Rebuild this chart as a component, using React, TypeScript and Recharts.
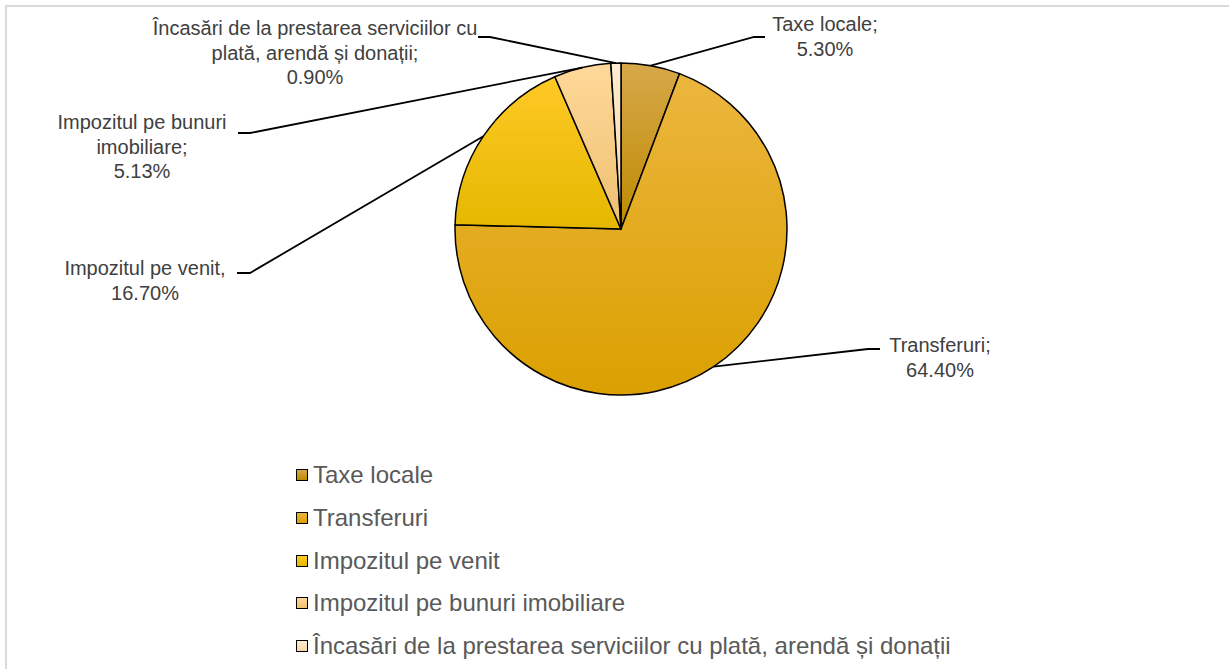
import { PieChart, Pie, Cell, Legend } from "recharts"

const categories = [
  "Taxe locale",
  "Transferuri",
  "Impozitul pe venit",
  "Impozitul pe bunuri imobiliare",
  "Încasări de la prestarea serviciilor cu plată, arendă și donații",
]
const shares = [5.3, 64.4, 16.7, 5.13, 0.9]
const labelNameLines = [
  ["Taxe locale;"],
  ["Transferuri;"],
  ["Impozitul pe venit,"],
  ["Impozitul pe bunuri", "imobiliare;"],
  ["Încasări de la prestarea serviciilor cu", "plată, arendă și donații;"],
]

const data = categories.map((name, i) => ({ name, value: shares[i] }))

// slice gradients, top -> bottom
const colors = [
  ["#D6A84A", "#BE8A00"],
  ["#ECB63E", "#DBA000"],
  ["#FFC926", "#E4B800"],
  ["#FFD99A", "#EDC070"],
  ["#FFECD0", "#F4D8AA"],
]

// leader line elbow / end and label text position, relative to the pie centre
const labelLayout = [
  { elbow: [133, -192], end: [144, -192], tx: 204, ty: -205 },
  { elbow: [247, 120], end: [259, 120], tx: 319, ty: 116 },
  { elbow: [-371, 44], end: [-384, 44], tx: -476, ty: 39 },
  { elbow: [-371, -96], end: [-383, -96], tx: -479, ty: -107 },
  { elbow: [-131, -192], end: [-143, -192], tx: -306, ty: -201 },
]

const RAD = Math.PI / 180
const LINE_H = 24.5

const renderLabel = (props: any) => {
  const { cx, cy, midAngle, outerRadius, index, value } = props
  const lay = labelLayout[index]
  const x0 = cx + outerRadius * Math.cos(-midAngle * RAD)
  const y0 = cy + outerRadius * Math.sin(-midAngle * RAD)
  const lines = [...labelNameLines[index], `${value.toFixed(2)}%`]
  return (
    <g key={`lbl-${index}`}>
      <path
        d={`M${x0},${y0}L${cx + lay.elbow[0]},${cy + lay.elbow[1]}L${cx + lay.end[0]},${cy + lay.end[1]}`}
        stroke="#000"
        strokeWidth={1.8}
        fill="none"
      />
      <text
        x={cx + lay.tx}
        y={cy + lay.ty}
        textAnchor="middle"
        dominantBaseline="central"
        fill="#404040"
        fontSize={20}
        fontFamily="'Liberation Sans', Arial, sans-serif"
      >
        {lines.map((l, k) => (
          <tspan key={k} x={cx + lay.tx} dy={k === 0 ? 0 : LINE_H}>
            {l}
          </tspan>
        ))}
      </text>
    </g>
  )
}

const renderLegend = () => (
  <div style={{ fontFamily: "'Liberation Sans', Arial, sans-serif", fontSize: 24, color: "#595959" }}>
    {categories.map((name, i) => (
      <div key={name} style={{ display: "flex", alignItems: "center", height: 42.7 }}>
        <span
          style={{
            display: "inline-block",
            width: 10,
            height: 10,
            border: "1.5px solid #000",
            background: `linear-gradient(${colors[i][0]}, ${colors[i][1]})`,
            marginRight: 5,
          }}
        />
        <span>{name}</span>
      </div>
    ))}
  </div>
)

export default function App() {
  return (
    <div style={{ position: "absolute", left: 0, top: 0, width: 1229, height: 669, overflow: "hidden", background: "#fff" }}>
      <div
        style={{
          position: "absolute",
          left: 5,
          top: 5,
          width: 1400,
          height: 800,
          borderTop: "2px solid #d9d9d9",
          borderLeft: "2px solid #d9d9d9",
        }}
      />
      <PieChart
        width={1229}
        height={669}
        margin={{ top: 0, right: 0, bottom: 0, left: 0 }}
        style={{ position: "absolute", left: 0, top: 0 }}
      >
        <defs>
          {colors.map((c, i) => (
            <linearGradient key={i} id={`slice-${i}`} x1="0" y1="0" x2="0" y2="1">
              <stop offset="0%" stopColor={c[0]} />
              <stop offset="100%" stopColor={c[1]} />
            </linearGradient>
          ))}
        </defs>
        <Pie
          data={data}
          dataKey="value"
          nameKey="name"
          cx={621}
          cy={229}
          outerRadius={166}
          startAngle={90}
          endAngle={-270}
          stroke="#000"
          strokeWidth={1.5}
          label={renderLabel}
          labelLine={false}
          isAnimationActive={false}
        >
          {data.map((d, i) => (
            <Cell key={d.name} fill={`url(#slice-${i})`} />
          ))}
        </Pie>
        <Legend
          content={renderLegend}
          layout="vertical"
          wrapperStyle={{ position: "absolute", left: 296, top: 454, width: 800 }}
        />
      </PieChart>
    </div>
  )
}
